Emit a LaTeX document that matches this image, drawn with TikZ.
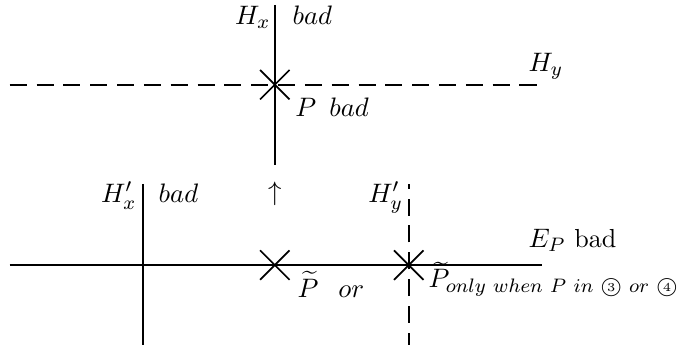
\documentclass[tikz,border=0pt]{standalone}
\usepackage{amsmath}
\usetikzlibrary{shapes.misc}
\DeclareMathSizes{10.7}{10.7}{8.3}{6}
\newcommand{\wsp}{\mkern6.5mu}

\begin{document}
\begin{tikzpicture}[
    axis/.style={line width=0.7pt},
    dashaxis/.style={line width=0.7pt, dash pattern=on 7pt off 4pt},
    crossmark/.style={draw, cross out, line width=0.7pt, minimum size=0.4cm, inner sep=0pt},
    lbl/.style={inner sep=0pt, font=\fontsize{10.7}{13}\selectfont}
]
  \useasboundingbox (0,0) rectangle (9.77,4.97);

  % Upper part: H_x and H_y through P
  \coordinate (hxtop) at (3.96,4.90);
  \coordinate (hxbot) at (3.96,2.59);
  \coordinate (hyleft) at (0.14,3.75);
  \coordinate (hyright) at (7.81,3.75);
  \draw[axis] (hxtop) -- (hxbot);
  \draw[dashaxis] (hyleft) -- (hyright);
  \node[crossmark] (P) at (3.96,3.75) {};

  \node[lbl, anchor=base east] (hxlabel) at (3.90,4.61) {$H_x$};
  \node[lbl, anchor=base west] (hxbad) at (4.21,4.61) {$bad$};
  \node[lbl, anchor=base west] (hylabel) at (7.61,3.94) {$H_y$};
  \node[lbl, anchor=base west] (pbad) at (4.25,3.29) {$P\ \,bad$};

  % Arrow between the two parts
  \node[lbl] (uparr) at (3.96,2.18) {$\uparrow$};

  % Lower part: H'_x, H'_y and E_P
  \coordinate (epleft) at (0.14,1.15);
  \coordinate (epright) at (7.81,1.15);
  \coordinate (hxptop) at (2.06,2.32);
  \coordinate (hxpbot) at (2.06,0);
  \coordinate (hyptop) at (5.89,2.32);
  \coordinate (hypbot) at (5.89,0);
  \draw[axis] (epleft) -- (epright);
  \draw[axis] (hxptop) -- (hxpbot);
  \draw[dashaxis, dash phase=2pt] (hypbot) -- (hyptop);
  \node[crossmark] (Pt) at (3.96,1.15) {};
  \node[crossmark] (Ptb) at (5.89,1.15) {};

  \node[lbl, anchor=base east] (hxplabel) at (1.97,2.05) {$H'_x$};
  \node[lbl, anchor=base west] (hxpbad) at (2.28,2.05) {$bad$};
  \node[lbl, anchor=base east] (hyplabel) at (5.81,2.05) {$H'_y$};
  \node[lbl, anchor=base west] (eplabel) at (7.61,1.40) {$E_P$ bad};
  \node[lbl, anchor=base west] (ptlabel) at (4.28,0.69) {$\widetilde{P}$};
  \node[lbl, anchor=base west] (orlabel) at (4.87,0.69) {$or$};
  \node[lbl, anchor=base west] (ptblabel) at (6.17,0.82)
      {$\widetilde{P}_{only\wsp when\wsp P\wsp in\wsp\text{\textcircled{\tiny 3}}\wsp or\wsp\text{\textcircled{\tiny 4}}}$};
\end{tikzpicture}
\end{document}
